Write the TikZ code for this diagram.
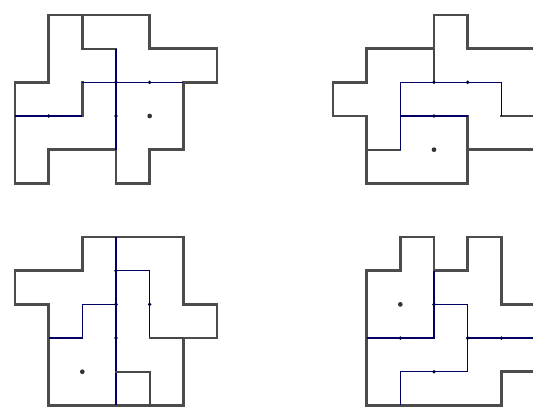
\documentclass[tikz,border=0pt]{standalone}
\usetikzlibrary{calc}

\begin{document}
\begin{tikzpicture}[
    x=1cm, y=-1cm,
    rim/.style={draw=black!70, line width=2.2pt, line join=miter, line cap=rect},
    seam/.style={draw=black!72, line width=1.6pt, line cap=rect},
    cut/.style={draw=blue!40!black, line width=1.2pt},
    tick/.style={fill=blue!25!black},
    core/.style={fill=black!80}
]
\useasboundingbox (0,0) rectangle (15.83,12.06);

% top left
\begin{scope}[shift={(0.445,0.445)}]
\draw[rim] (1,0) -- (4,0) -- (4,1) -- (6,1) -- (6,2) -- (5,2) -- (5,4) -- (4,4)
    -- (4,5) -- (3,5) -- (3,4) -- (1,4) -- (1,5) -- (0,5) -- (0,2) -- (1,2) -- cycle;
\draw[rim] (2,0) -- (2,1);
\draw[rim] (2,2) -- (2,3);
\draw[seam] (2,1) -- (3,1);
\draw[cut] (3,1) -- (3,4);
\draw[cut] (2,2) -- (5,2);
\draw[cut] (0,3) -- (2,3);
\foreach \p in {(3,2),(4,2),(3,3),(1,3)} \fill[tick] \p circle (1.6pt);
\fill[core] (4,3) circle (2pt);
\end{scope}

% top right
\begin{scope}[shift={(9.89,0.445)}]
\draw[rim] (3,0) -- (4,0) -- (4,1) -- (6,1) -- (6,4) -- (4,4) -- (4,5) -- (1,5)
    -- (1,3) -- (0,3) -- (0,2) -- (1,2) -- (1,1) -- (3,1) -- cycle;
\draw[seam] (3,1) -- (3,2);
\draw[rim] (4,3) -- (4,4);
\draw[seam] (1,4) -- (2,4);
\draw[seam] (5,3) -- (6,3);
\draw[cut] (2,4) -- (2,2) -- (5,2) -- (5,3);
\draw[cut] (2,3) -- (4,3);
\foreach \p in {(3,2),(4,2),(3,3)} \fill[tick] \p circle (1.6pt);
\fill[core] (3,4) circle (2pt);
\end{scope}

% bottom left
\begin{scope}[shift={(0.445,7.04)}]
\draw[rim] (2,0) -- (5,0) -- (5,2) -- (6,2) -- (6,3) -- (5,3) -- (5,5) -- (1,5)
    -- (1,2) -- (0,2) -- (0,1) -- (2,1) -- cycle;
\draw[cut] (3,0) -- (3,5);
\draw[seam] (3,4) -- (4,4) -- (4,5);
\draw[cut] (3,1) -- (4,1) -- (4,3);
\draw[seam] (4,3) -- (5,3);
\draw[cut] (3,2) -- (2,2) -- (2,3) -- (1,3);
\foreach \p in {(3,1),(3,2),(3,3),(4,2)} \fill[tick] \p circle (1.6pt);
\fill[core] (2,4) circle (2pt);
\end{scope}

% bottom right
\begin{scope}[shift={(9.89,7.04)}]
\draw[rim] (2,0) -- (3,0) -- (3,1) -- (4,1) -- (4,0) -- (5,0) -- (5,2) -- (6,2)
    -- (6,4) -- (5,4) -- (5,5) -- (1,5) -- (1,1) -- (2,1) -- cycle;
\draw[cut] (3,1) -- (3,3) -- (1,3);
\draw[cut] (3,2) -- (4,2) -- (4,4) -- (2,4) -- (2,5);
\draw[cut] (4,3) -- (6,3);
\foreach \p in {(2,3),(3,2),(4,3),(5,3),(3,4)} \fill[tick] \p circle (1.6pt);
\fill[core] (2,2) circle (2pt);
\end{scope}
\end{tikzpicture}
\end{document}
